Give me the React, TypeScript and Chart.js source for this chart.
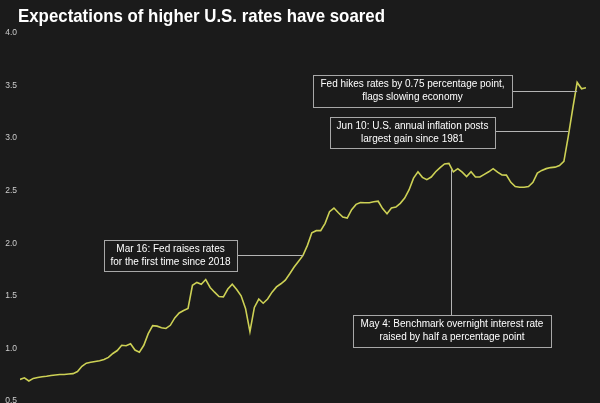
import React, { useEffect, useRef } from "react";
import { Chart, registerables } from "chart.js";

Chart.register(...registerables);

const TITLE = "Expectations of higher U.S. rates have soared";

const yTicks = [0.5, 1.0, 1.5, 2.0, 2.5, 3.0, 3.5, 4.0];

// one value per trading day, mid-Dec 2021 .. mid-Jun 2022
const values = [
  0.705, 0.72, 0.69, 0.715, 0.724, 0.73, 0.735, 0.742, 0.748, 0.752,
  0.752, 0.757, 0.76, 0.78, 0.83, 0.86, 0.868, 0.876, 0.882, 0.895,
  0.915, 0.952, 0.98, 1.03, 1.025, 1.045, 0.985, 0.965, 1.03, 1.14,
  1.217, 1.212, 1.196, 1.19, 1.22, 1.29, 1.337, 1.36, 1.381, 1.6,
  1.628, 1.61, 1.655, 1.58, 1.535, 1.494, 1.49, 1.565, 1.61, 1.56,
  1.5, 1.38, 1.16, 1.39, 1.47, 1.43, 1.47, 1.535, 1.585, 1.615,
  1.65, 1.71, 1.775, 1.83, 1.885, 1.98, 2.1, 2.12, 2.12, 2.19,
  2.3, 2.335, 2.29, 2.25, 2.24, 2.32, 2.37, 2.387, 2.385, 2.385,
  2.395, 2.4, 2.33, 2.28, 2.335, 2.345, 2.38, 2.43, 2.51, 2.62,
  2.68, 2.627, 2.605, 2.63, 2.68, 2.72, 2.755, 2.76, 2.68, 2.71,
  2.676, 2.635, 2.68, 2.63, 2.63, 2.655, 2.68, 2.71, 2.676, 2.65,
  2.648, 2.58, 2.54, 2.533, 2.533, 2.54, 2.58, 2.667, 2.693, 2.71,
  2.72, 2.724, 2.74, 2.78, 3.02, 3.28, 3.53, 3.47, 3.48,
];

const annotationTexts = [
  ["Fed hikes rates by 0.75 percentage point,", "flags slowing economy"],
  ["Jun 10: U.S. annual inflation posts", "largest gain since 1981"],
  ["Mar 16: Fed raises rates", "for the first time since 2018"],
  ["May 4: Benchmark overnight interest rate", "raised by half a percentage point"],
];
const annotationDay = [126, 124, 64, 97.5];
const annotationValue = [3.45, 3.07, 1.89, 2.7];

// layout (pixels)
const BOXES = [
  { x: 313, y: 75, w: 199, h: 32, side: "right" },
  { x: 330, y: 117, w: 165, h: 31, side: "right" },
  { x: 104, y: 240, w: 133, h: 31, side: "right" },
  { x: 353, y: 315, w: 198, h: 32, side: "top" },
];

const BG = "#1b1b1b";
const LINE = "#cdd155";
const FONT = "'Liberation Sans', Arial, sans-serif";

const bgTitlePlugin = {
  id: "bgTitle",
  beforeDraw(chart: any) {
    const ctx = chart.ctx;
    ctx.save();
    ctx.fillStyle = BG;
    ctx.fillRect(0, 0, chart.width, chart.height);
    ctx.font = `bold 19px ${FONT}`;
    const w = ctx.measureText(TITLE).width;
    const target = 367;
    const sx = target / w;
    ctx.translate(18, 22);
    ctx.scale(sx, 1);
    ctx.fillStyle = "#ffffff";
    ctx.textBaseline = "alphabetic";
    ctx.textAlign = "left";
    ctx.fillText(TITLE, 0, 0);
    ctx.restore();
  },
};

const annotationPlugin = {
  id: "notes",
  afterDatasetsDraw(chart: any) {
    const ctx = chart.ctx;
    const xs = chart.scales.x;
    const ys = chart.scales.y;
    ctx.save();
    BOXES.forEach((b, i) => {
      const ax = xs.getPixelForValue(annotationDay[i]);
      const ay = ys.getPixelForValue(annotationValue[i]);
      ctx.strokeStyle = "#b4b4b4";
      ctx.lineWidth = 1;
      ctx.beginPath();
      if (b.side === "right") {
        const yy = Math.round(ay) + 0.5;
        ctx.moveTo(b.x + b.w, yy);
        ctx.lineTo(ax, yy);
      } else {
        const xx = Math.round(ax) + 0.5;
        ctx.moveTo(xx, ay);
        ctx.lineTo(xx, b.y);
      }
      ctx.stroke();
      ctx.fillStyle = BG;
      ctx.fillRect(b.x, b.y, b.w, b.h);
      ctx.strokeStyle = "#a8a8a8";
      ctx.strokeRect(b.x + 0.5, b.y + 0.5, b.w, b.h);
      ctx.fillStyle = "#ffffff";
      ctx.font = `10px ${FONT}`;
      ctx.textAlign = "center";
      ctx.textBaseline = "middle";
      const cx = b.x + b.w / 2;
      const cy = b.y + b.h / 2;
      const lines = annotationTexts[i];
      ctx.fillText(lines[0], cx, cy - 6.5);
      ctx.fillText(lines[1], cx, cy + 6.5);
    });
    ctx.restore();
  },
};

export default function App() {
  const ref = useRef<HTMLCanvasElement>(null);
  useEffect(() => {
    const canvas = ref.current!;
    const chart = new Chart(canvas, {
      type: "line",
      data: {
        datasets: [
          {
            data: values.map((v, i) => ({ x: i, y: v })),
            borderColor: LINE,
            borderWidth: 1.6,
            pointRadius: 0,
            tension: 0,
            fill: false,
          },
        ],
      },
      options: {
        responsive: false,
        animation: false,
        layout: { padding: { top: 33, right: 14, bottom: 2, left: 0 } },
        plugins: {
          legend: { display: false },
          tooltip: { enabled: false },
          title: { display: false },
        },
        scales: {
          x: { type: "linear", display: false, min: 0, max: values.length - 1 },
          y: {
            min: 0.5,
            max: 4.0,
            afterBuildTicks: (s: any) => {
              s.ticks = yTicks.map((v) => ({ value: v }));
            },
            afterFit: (s: any) => {
              s.width = 20;
              s.paddingTop = 0;
              s.paddingBottom = 0;
            },
            grid: { display: false, drawTicks: false },
            border: { display: false },
            ticks: {
              color: "#cccccc",
              font: { family: FONT, size: 8.5 },
              padding: 3,
              autoSkip: false,
              callback: (v: any) => Number(v).toFixed(1),
            },
          },
        },
      },
      plugins: [bgTitlePlugin, annotationPlugin],
    } as any);
    return () => chart.destroy();
  }, []);
  return (
    <div style={{ position: "fixed", left: 0, top: 0, width: 600, height: 403, background: BG }}>
      <canvas ref={ref} width={600} height={403} style={{ display: "block", width: 600, height: 403 }} />
    </div>
  );
}
